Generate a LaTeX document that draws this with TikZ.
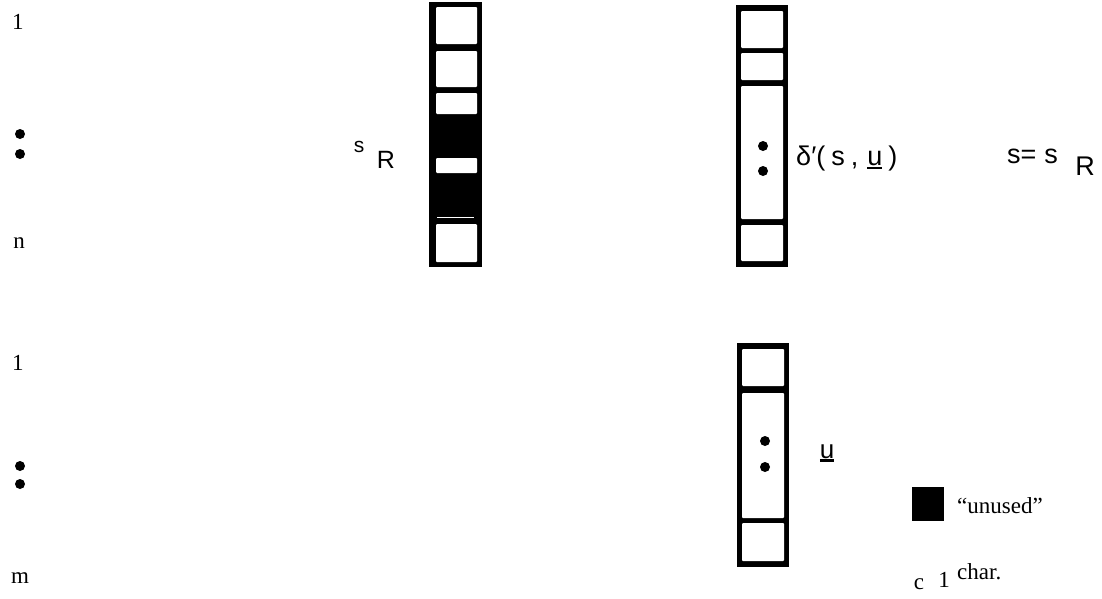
\documentclass[tikz,border=0pt]{standalone}
\usepackage{fontspec}
\setmainfont{Liberation Serif}
\newfontfamily\sansf{Liberation Sans}
\newcommand{\thickul}[1]{\setbox0\hbox{#1}\leavevmode\rlap{\raisebox{-3.5pt}{\rule{\wd0}{2.6pt}}}\box0}
\begin{document}
\begin{tikzpicture}[x=1pt,y=-1pt,
  lbl/.style={font=\fontsize{23}{25}\selectfont, inner sep=0pt},
  sf/.style={font=\sansf\fontsize{27}{30}\selectfont, inner sep=0pt},
  cellw/.style={fill=white, rounded corners=1pt},
  dot/.style={circle, fill=black, minimum size=10pt, inner sep=0pt}]
\useasboundingbox (0,0) rectangle (1102,598);
% left column
\node[lbl] (l1) at (18,22) {1};
\node[dot] (ld1) at (20,134) {};
\node[dot] (ld2) at (20,154) {};
\node[lbl] (ln) at (19,243) {n};
\node[lbl] (l2) at (18,363) {1};
\node[dot] (ld3) at (20,466) {};
\node[dot] (ld4) at (20,484) {};
\node[lbl] (lm) at (20,578) {m};
% register s_R
\fill[black] (429,2) rectangle (482,267);
\fill[cellw] (436,7) rectangle (477,44);
\fill[cellw] (436,51) rectangle (477,87);
\fill[cellw] (436,93) rectangle (477,114);
\fill[cellw] (436,158) rectangle (477,173);
\fill[white] (437,216.5) rectangle (474,218);
\fill[cellw] (436,224) rectangle (477,262);
\node[sf, font=\sansf\fontsize{21}{24}\selectfont] (ls) at (359,147) {s};
\node[sf, font=\sansf\fontsize{25}{28}\selectfont] (lR) at (386,160) {R};
% register delta'
\fill[black] (736,5) rectangle (788,267);
\fill[cellw] (741,11) rectangle (783,48);
\fill[cellw] (741,53) rectangle (783,80);
\fill[cellw] (741,86) rectangle (783,219);
\fill[cellw] (741,225) rectangle (783,261);
\node[dot] (d1) at (763,146) {};
\node[dot] (d2) at (763,171) {};
\node[sf, anchor=west] (ldelta) at (796,159) {δ′(\hspace{6pt}s\hspace{6pt},\hspace{9pt}\thickul{u}\hspace{6pt})};
\node[sf, anchor=west] (leq) at (1007,156) {s=\hspace{8pt}s};
\node[sf] (lR2) at (1085,166) {R};
% register u
\fill[black] (737,343) rectangle (789,567);
\fill[cellw] (742,349) rectangle (784,386);
\fill[cellw] (742,393) rectangle (784,518);
\fill[cellw] (742,523) rectangle (784,561);
\node[dot] (d3) at (765,441) {};
\node[dot] (d4) at (765,467) {};
\node[sf, font=\sansf\fontsize{26}{28}\selectfont] (lu) at (827,453) {\thickul{u}};
% legend
\fill[black] (912,487) rectangle (944,521);
\node[lbl, anchor=west] (lunused) at (957,506) {“unused”};
\node[lbl] (lc) at (919,584) {c};
\node[lbl] (lone) at (944,580) {1};
\node[lbl, anchor=west] (lchar) at (957,572) {char.};
\end{tikzpicture}
\end{document}
